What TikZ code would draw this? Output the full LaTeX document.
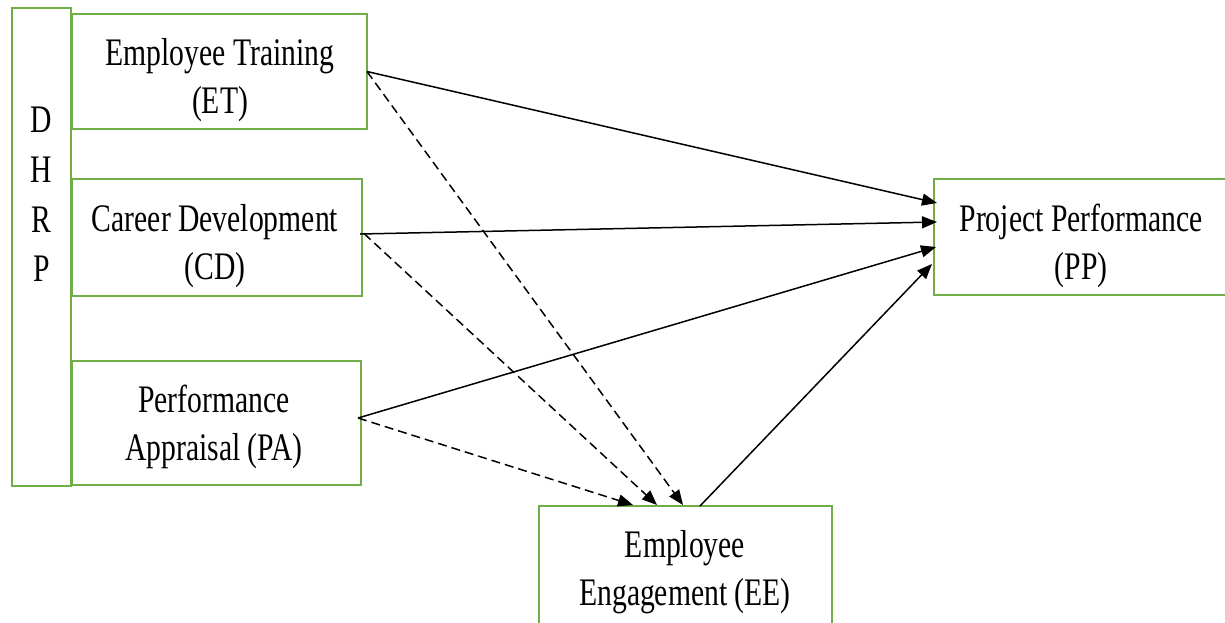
\documentclass[tikz,border=0pt]{standalone}
\usepackage{fontspec}
\setmainfont{Liberation Serif}[FakeStretch=0.76]
\usetikzlibrary{arrows.meta}
\definecolor{boxgreen}{RGB}{112,173,71}
\begin{document}
\begin{tikzpicture}[x=1pt,y=-1pt,
  box/.style={draw=boxgreen, line width=2.8pt, inner sep=0pt, outer sep=0pt},
  lbl/.style={align=center, inner sep=0pt, font=\fontsize{39}{48}\selectfont},
  solidarrow/.style={draw=black, line width=1.5pt, -{Triangle[length=15pt,width=12pt]}},
  dasharrow/.style={solidarrow, dash pattern=on 9pt off 5pt}]
\useasboundingbox (0,0) rectangle (1225,622);
\fill[white] (0,0) rectangle (1225,622);
% boxes
\node[box, minimum width=59pt, minimum height=478pt] (dhrp) at (41.5,247) {};
\node[box, minimum width=295pt, minimum height=115pt] (et) at (219.5,71.5) {};
\node[box, minimum width=290pt, minimum height=117pt] (cd) at (217,237.5) {};
\node[box, minimum width=289pt, minimum height=124pt] (pa) at (216.5,423) {};
\node[box, minimum width=294pt, minimum height=116pt] (pp) at (1081,237) {};
\node[box, minimum width=293pt, minimum height=118pt] (ee) at (685.5,565) {};
% labels
\node[lbl, font=\fontsize{39}{49.7}\selectfont] (dhrpT) at (41.5,194.6) {D\\H\\R\\P};
\node[lbl] (etT) at (220,79.9) {Employee Training\\(ET)};
\node[lbl] (cdT) at (215,246.2) {Career Development\\(CD)};
\node[lbl] (paT) at (214,427) {Performance\\Appraisal (PA)};
\node[lbl] (ppT) at (1081,246) {Project Performance\\(PP)};
\node[lbl] (eeT) at (685,571.8) {Employee\\Engagement (EE)};
% solid arrows to PP
\draw[solidarrow] (et.east) -- ([shift={(3,-34)}]pp.west);
\draw[solidarrow] ([shift={(-2,-3.5)}]cd.east) -- ([shift={(3,-15)}]pp.west);
\draw[solidarrow] ([shift={(-3,-5)}]pa.east) -- ([shift={(2,10)}]pp.west);
\draw[solidarrow] ([shift={(14.5,0)}]ee.north) -- ([shift={(-2,27)}]pp.west);
% dashed arrows to EE
\draw[dasharrow] (et.east) -- ([shift={(-2.5,-1)}]ee.north);
\draw[dasharrow] ([shift={(2,-4)}]cd.east) -- ([shift={(-28.5,-1)}]ee.north);
\draw[dasharrow] ([shift={(-3,-5)}]pa.east) -- ([shift={(-52.5,-1)}]ee.north);
\end{tikzpicture}
\end{document}
